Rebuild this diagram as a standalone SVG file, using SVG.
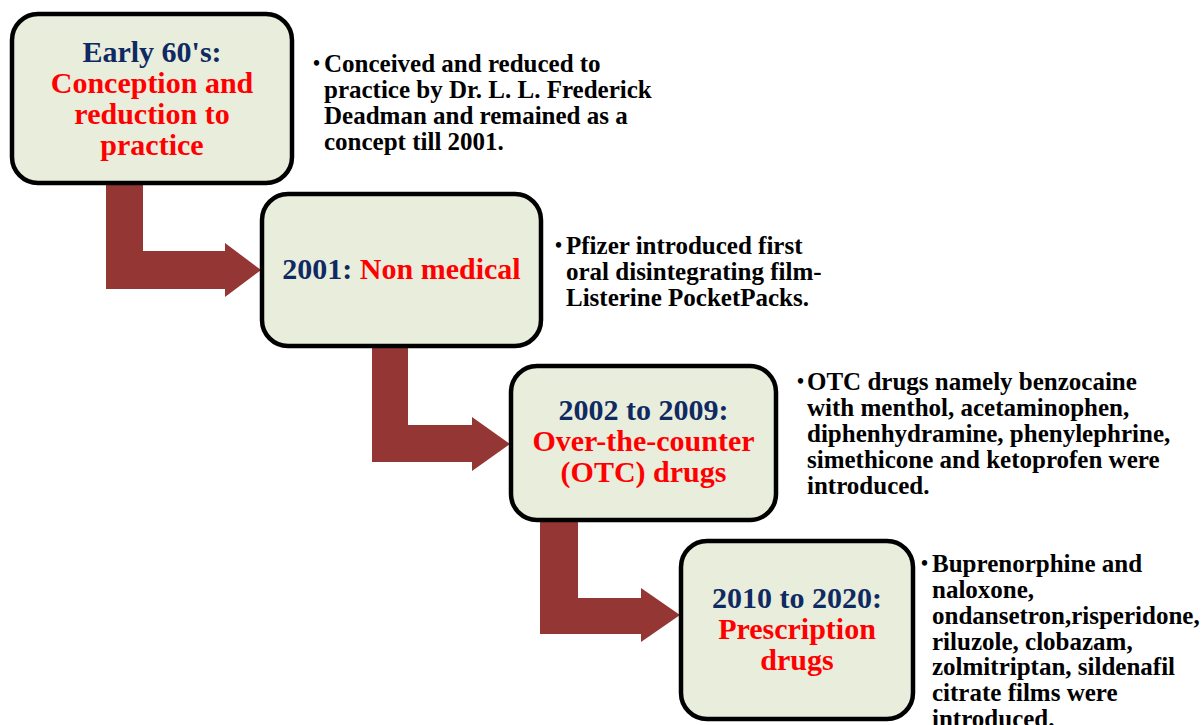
<svg xmlns="http://www.w3.org/2000/svg" width="1201" height="725" viewBox="0 0 1201 725">
<style>
.box{fill:#E9EDDC;stroke:#000;stroke-width:4.5}
.arrow{fill:#943634}
.lbl{font-family:"Liberation Serif","Times New Roman",serif;font-weight:bold;font-size:30px;text-anchor:middle}
.navy{fill:#0F2A63}
.red{fill:#FF0000}
.desc{font-family:"Liberation Serif","Times New Roman",serif;font-weight:bold;font-size:25px;fill:#000}
.bul{font-family:"Liberation Serif","Times New Roman",serif;font-weight:bold;font-size:20px;fill:#000}
</style>
<rect width="1201" height="725" fill="#fff"/>
<g id="connectors">
<path class="arrow" d="M106,181 H143 V251 H225 V243 L261,270 L225,297 V289 H106 Z"/>
<path class="arrow" d="M372,345 H408 V425 H472 V417 L510,444 L472,471 V462 H372 Z"/>
<path class="arrow" d="M540,519 H578 V598 H641 V588 L680,615 L641,642 V634 H540 Z"/>
</g>
<g id="node1">
<rect class="box" x="12" y="14" width="280" height="169" rx="26"/>
<text class="lbl navy" x="152" y="62">Early 60's:</text>
<text class="lbl red" x="152" y="93">Conception and</text>
<text class="lbl red" x="152" y="124">reduction to</text>
<text class="lbl red" x="152" y="155">practice</text>
</g>
<g id="desc1">
<text class="bul" x="313" y="70">•</text>
<text class="desc" x="324" y="72">Conceived and reduced to</text>
<text class="desc" x="324" y="98">practice by Dr. L. L. Frederick</text>
<text class="desc" x="324" y="124">Deadman and remained as a</text>
<text class="desc" x="324" y="150">concept till 2001.</text>
</g>
<g id="node2">
<rect class="box" x="262" y="194" width="279" height="152" rx="26"/>
<text class="lbl" x="401.5" y="279"><tspan class="navy">2001: </tspan><tspan class="red">Non medical</tspan></text>
</g>
<g id="desc2">
<text class="bul" x="555" y="252">•</text>
<text class="desc" x="566" y="254">Pfizer introduced first</text>
<text class="desc" x="566" y="280">oral disintegrating film-</text>
<text class="desc" x="566" y="306">Listerine PocketPacks.</text>
</g>
<g id="node3">
<rect class="box" x="511" y="366" width="265" height="154" rx="26"/>
<text class="lbl navy" x="643.5" y="420">2002 to 2009:</text>
<text class="lbl red" x="643.5" y="451">Over-the-counter</text>
<text class="lbl red" x="643.5" y="482">(OTC) drugs</text>
</g>
<g id="desc3">
<text class="bul" x="797" y="388">•</text>
<text class="desc" x="807" y="390">OTC drugs namely benzocaine</text>
<text class="desc" x="807" y="416">with menthol, acetaminophen,</text>
<text class="desc" x="807" y="442">diphenhydramine, phenylephrine,</text>
<text class="desc" x="807" y="468">simethicone and ketoprofen were</text>
<text class="desc" x="807" y="494">introduced.</text>
</g>
<g id="node4">
<rect class="box" x="681" y="541" width="232" height="178" rx="26"/>
<text class="lbl navy" x="797" y="608">2010 to 2020:</text>
<text class="lbl red" x="797" y="639">Prescription</text>
<text class="lbl red" x="797" y="670">drugs</text>
</g>
<g id="desc4">
<text class="bul" x="921" y="570">•</text>
<text class="desc" x="932" y="572">Buprenorphine and</text>
<text class="desc" x="932" y="598">naloxone,</text>
<text class="desc" x="932" y="624">ondansetron,risperidone,</text>
<text class="desc" x="932" y="650">riluzole, clobazam,</text>
<text class="desc" x="932" y="675">zolmitriptan, sildenafil</text>
<text class="desc" x="932" y="701">citrate films were</text>
<text class="desc" x="932" y="727">introduced.</text>
</g>
</svg>
